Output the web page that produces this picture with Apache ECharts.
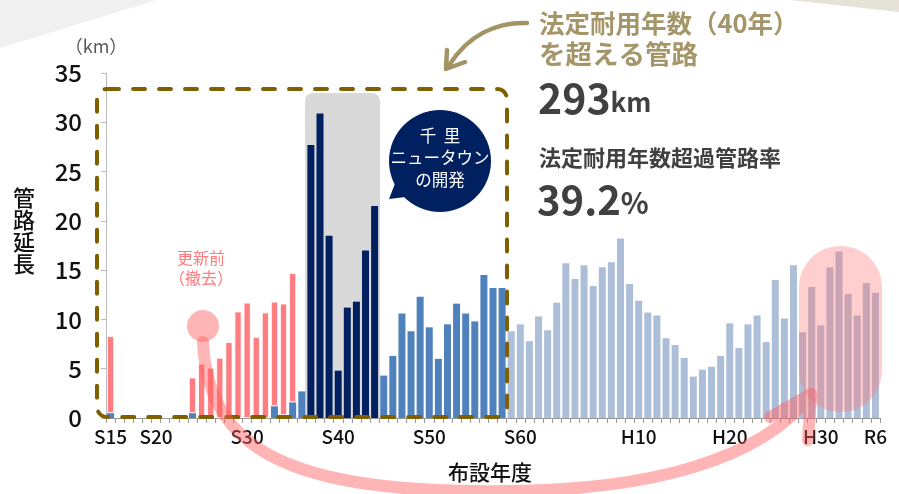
<!DOCTYPE html>
<html><head><meta charset="utf-8">
<script src="https://cdn.jsdelivr.net/npm/echarts@6/dist/echarts.min.js"></script>
<style>html,body{margin:0;padding:0;background:#fff}#c{width:899px;height:494px}</style>
</head><body><div id="c"></div>
<script>
const years = [
1940,1941,1942,1943,1944,1945,1946,1947,1948,1949,
1950,1951,1952,1953,1954,1955,1956,1957,1958,1959,
1960,1961,1962,1963,1964,1965,1966,1967,1968,1969,
1970,1971,1972,1973,1974,1975,1976,1977,1978,1979,
1980,1981,1982,1983,1984,1985,1986,1987,1988,1989,
1990,1991,1992,1993,1994,1995,1996,1997,1998,1999,
2000,2001,2002,2003,2004,2005,2006,2007,2008,2009,
2010,2011,2012,2013,2014,2015,2016,2017,2018,2019,
2020,2021,2022,2023,2024];
// existing pipes (km)
const existing = [
0.5,null,null,null,null,null,null,null,null,0.5,
null,null,null,null,null,null,null,null,1.2,0.3,
1.6,2.7,27.7,30.9,18.5,4.8,11.2,11.8,17.0,21.5,
4.3,6.3,10.6,8.8,12.3,9.2,6.0,9.5,11.6,10.6,
9.8,14.5,13.2,13.2,8.8,9.5,7.8,10.3,8.9,11.7,
15.7,14.1,15.5,13.4,15.3,15.8,18.2,13.6,11.9,10.7,
10.4,8.1,7.4,6.1,4.2,4.9,5.2,6.3,9.6,7.1,
9.5,10.4,7.7,14.0,10.1,15.5,8.7,13.3,9.4,15.3,
16.9,12.6,10.4,13.7,12.7];
// removed before renewal (km)
const removed = [
7.8,null,null,null,null,null,null,null,null,3.6,
5.5,5.1,6.1,7.7,10.8,11.7,8.2,10.7,10.6,11.3,
13.1,null,null,null,null,null,null,null,null,null,
null,null,null,null,null,null,null,null,null,null,
null,null,null,null,null,null,null,null,null,null,
null,null,null,null,null,null,null,null,null,null,
null,null,null,null,null,null,null,null,null,null,
null,null,null,null,null,null,null,null,null,null,
null,null,null,null,null];
const labelYears = [1940,1945,1955,1965,1975,1985,1998,2008,2018,2024];
const labelTexts = ['S15','S20','S30','S40','S50','S60','H10','H20','H30','R6'];

const FONT = '"Noto Sans CJK JP", "Noto Sans", sans-serif';
const NAVY = '#002060', MID = '#4f81bd', LIGHT = '#adbfd8', RED = '#ff7c80';
function barColor(y){
  if (y >= 1962 && y <= 1969) return NAVY;
  if (y <= 1983) return MID;
  return LIGHT;
}

const PINK_PATH = 'M203,342 C208,450 290,494 507,491 C650,490 760,460 810,396 M770,417 L811,394 L808,440';
const BROWN_PATH = 'M527,23 C495,22 468,36 450,64 M447,50 L446,69 L465,62';
const PINK = 'rgba(255,90,90,0.45)';
let arrows = [];
try {
  echarts.graphic.registerShape('pinkArrowShape', echarts.graphic.extendPath(PINK_PATH, {}));
  echarts.graphic.registerShape('brownArrowShape', echarts.graphic.extendPath(BROWN_PATH, {}));
  arrows = [
    {type: 'pinkArrowShape', z: 101, shape: {}, style: {fill: 'none', stroke: PINK, lineWidth: 12, lineCap: 'round', lineJoin: 'round'}},
    {type: 'brownArrowShape', z: 102, shape: {}, style: {fill: 'none', stroke: '#a39466', lineWidth: 4.5, lineCap: 'round', lineJoin: 'round'}}
  ];
} catch (e) {
  const ps = {fill: 'none', stroke: PINK, lineWidth: 12, lineCap: 'round'};
  arrows = [
    {type: 'bezierCurve', z: 101, shape: {x1: 203, y1: 342, cpx1: 208, cpy1: 450, cpx2: 290, cpy2: 494, x2: 507, y2: 491}, style: ps},
    {type: 'bezierCurve', z: 101, shape: {x1: 507, y1: 491, cpx1: 650, cpy1: 490, cpx2: 760, cpy2: 460, x2: 810, y2: 396}, style: ps},
    {type: 'polyline', z: 101, shape: {points: [[770,417],[811,394],[808,440]]}, style: ps},
    {type: 'bezierCurve', z: 102, shape: {x1: 527, y1: 23, cpx1: 495, cpy1: 22, cpx2: 468, cpy2: 36, x2: 450, y2: 64}, style: {fill: 'none', stroke: '#a39466', lineWidth: 4.5, lineCap: 'round'}},
    {type: 'polyline', z: 102, shape: {points: [[447,50],[446,69],[465,62]]}, style: {fill: 'none', stroke: '#a39466', lineWidth: 4.5, lineCap: 'round'}}
  ];
}

const chart = echarts.init(document.getElementById('c'));
const option = {
  animation: false,
  backgroundColor: '#fff',
  grid: {left: 106, right: 19, top: 73, bottom: 76},
  xAxis: {
    type: 'category', data: years,
    axisLine: {lineStyle: {color: '#999', width: 1}},
    axisTick: {show: true, interval: 0, length: 5, lineStyle: {color: '#999'}},
    axisLabel: {
      interval: (i, v) => labelYears.indexOf(+v) >= 0,
      formatter: v => { const k = labelYears.indexOf(+v); return k >= 0 ? labelTexts[k] : ''; },
      fontSize: 19, fontWeight: 500, color: '#111', fontFamily: FONT, margin: 9
    }
  },
  yAxis: {
    type: 'value', min: 0, max: 35, interval: 5,
    axisLine: {show: true, lineStyle: {color: '#bbb'}},
    axisTick: {show: true, length: 5, lineStyle: {color: '#bbb'}},
    splitLine: {show: false},
    axisLabel: {fontSize: 24, fontWeight: 500, color: '#111', fontFamily: FONT, margin: 24}
  },
  series: [
    {type: 'bar', stack: 'a', barWidth: 7, data: existing, z: 3,
     itemStyle: {color: p => barColor(years[p.dataIndex])}},
    {type: 'bar', stack: 'a', barWidth: 7, data: removed, z: 3,
     itemStyle: {color: RED, borderColor: '#fff', borderWidth: 0.8}}
  ],
  graphic: [
    {type: 'polygon', z: -10, shape: {points: [[0,0],[157,0],[0,48]]}, style: {fill: '#f0f0f0'}},
    {type: 'polygon', z: -10, shape: {points: [[790,0],[899,0],[899,12]]}, style: {fill: '#e6e2d8'}},
    {type: 'rect', z: 0, shape: {x: 305, y: 93, width: 75, height: 325, r: [8,8,0,0]}, style: {fill: '#d9d9d9'}},
    {type: 'rect', z: 100, shape: {x: 97, y: 89, width: 410, height: 328, r: 10},
     style: {fill: 'none', stroke: '#7f6000', lineWidth: 4, lineDash: [12, 14], lineCap: 'round'}},
    {type: 'rect', z: 100, shape: {x: 799, y: 246, width: 83, height: 166, r: 41},
     style: {fill: 'rgba(255,110,110,0.33)'}},
    {type: 'circle', z: 101, shape: {cx: 203, cy: 326, r: 16}, style: {fill: PINK}},
    ...arrows,
    {type: 'polygon', z: 102, shape: {points: [[389,199],[398,176],[414,196]]}, style: {fill: NAVY}},
    {type: 'circle', z: 102, shape: {cx: 440, cy: 161, r: 51}, style: {fill: NAVY}},
    {type: 'text', z: 103, x: 440, y: 158, style: {text: '千  里\nニュータウン\nの開発', fill: '#fff', fontSize: 16.5, lineHeight: 22, fontFamily: FONT, textAlign: 'center', textVerticalAlign: 'middle'}},
    {type: 'text', z: 103, x: 539, y: 23, style: {text: '法定耐用年数（40年）', fill: '#a59669', fontSize: 25.5, fontWeight: 'bold', fontFamily: FONT, textVerticalAlign: 'middle'}},
    {type: 'text', z: 103, x: 539, y: 54, style: {text: 'を超える管路', fill: '#a59669', fontSize: 26.5, fontWeight: 'bold', fontFamily: FONT, textVerticalAlign: 'middle'}},
    {type: 'text', z: 103, x: 538, y: 98, style: {text: '{a|293}{b|km}', fill: '#404040', fontFamily: FONT, textVerticalAlign: 'middle',
      rich: {a: {fontSize: 41, fontWeight: 'bold', fill: '#404040', fontFamily: FONT}, b: {fontSize: 26, fontWeight: 'bold', fill: '#404040', fontFamily: FONT, padding: [9,0,0,0]}}}},
    {type: 'text', z: 103, x: 539, y: 158, style: {text: '法定耐用年数超過管路率', fill: '#404040', fontSize: 22, fontWeight: 'bold', fontFamily: FONT, textVerticalAlign: 'middle'}},
    {type: 'text', z: 103, x: 537, y: 200, style: {text: '{a|39.2}{b|%}', fill: '#404040', fontFamily: FONT, textVerticalAlign: 'middle',
      rich: {a: {fontSize: 40, fontWeight: 'bold', fill: '#404040', fontFamily: FONT}, b: {fontSize: 29, fontWeight: 'bold', fill: '#404040', fontFamily: FONT, padding: [6,0,0,0]}}}},
    {type: 'text', z: 103, x: 201, y: 258, style: {text: '更新前', fill: '#ff7c80', fontSize: 16, fontFamily: FONT, textAlign: 'center', textVerticalAlign: 'middle'}},
    {type: 'text', z: 103, x: 201, y: 278, style: {text: '（撤去）', fill: '#ff7c80', fontSize: 16, fontFamily: FONT, textAlign: 'center', textVerticalAlign: 'middle'}},
    {type: 'text', z: 103, x: 96, y: 46, style: {text: '（km）', fill: '#595959', fontSize: 18, fontFamily: FONT, textAlign: 'center', textVerticalAlign: 'middle'}},
    {type: 'text', z: 103, x: 24, y: 231, style: {text: '管\n路\n延\n長', fill: '#111', fontSize: 22, fontWeight: 500, lineHeight: 22, fontFamily: FONT, textAlign: 'center', textVerticalAlign: 'middle'}},
    {type: 'text', z: 103, x: 490, y: 472, style: {text: '布設年度', fill: '#111', fontSize: 21, fontWeight: 500, fontFamily: FONT, textAlign: 'center', textVerticalAlign: 'middle'}}
  ]
};
chart.setOption(option);
</script></body></html>
